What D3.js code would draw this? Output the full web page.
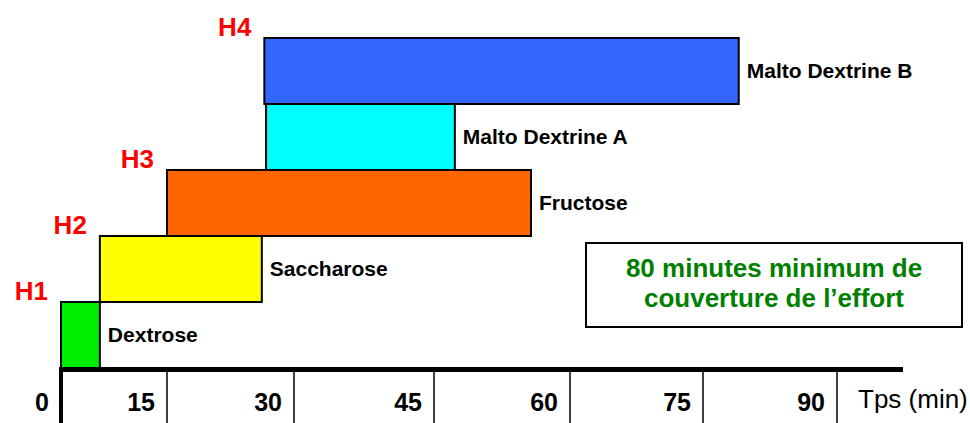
<!DOCTYPE html>
<html>
<head>
<meta charset="utf-8">
<script src="https://cdn.jsdelivr.net/npm/d3@7"></script>
<style>
  body { margin: 0; background: #fff; }
  text { font-family: Arial, "Liberation Sans", sans-serif; }
</style>
</head>
<body>
<div id="chart"></div>
<script>
// Data: sugars, when each one starts and stops covering the effort (minutes)
var sugars = ["Dextrose", "Saccharose", "Fructose", "Malto Dextrine A", "Malto Dextrine B"];
var startMin = [0, 5.5, 15, 26.7, 26.5];
var endMin = [5.5, 26.2, 55.7, 47.3, 79];
var sugarColors = ["#00ee00", "#ffff00", "#ff6600", "#00ffff", "#3366ff"];

// Hour markers and the sugar they sit on
var hourLabels = ["H1", "H2", "H3", "H4"];
var hourSugar = ["Dextrose", "Saccharose", "Fructose", "Malto Dextrine B"];

// Axis ticks
var tickValues = [0, 15, 30, 45, 60, 75, 90];
var axisTitle = "Tps (min)";
var noteLines = ["80 minutes minimum de", "couverture de l\u2019effort"];

var data = sugars.map(function(s, i) {
    return { name: s, start: startMin[i], end: endMin[i], color: sugarColors[i] };
});

var svgWidth = 970;
var svgHeight = 423;

var svg = d3.select("#chart")
    .append("svg")
    .attr("width", svgWidth)
    .attr("height", svgHeight);

// The drawn axis is not evenly spaced, so use a piecewise scale on the tick marks
var xScale = d3.scaleLinear()
    .domain(tickValues)
    .range([61, 167, 294, 434, 570, 703, 837]);

var axisY = 369.5;

// One row per sugar, stacked from the axis upward
var yScale = d3.scaleBand()
    .domain(sugars)
    .range([368, 38])
    .padding(0);

// Bars
svg.selectAll("rect.bar")
    .data(data)
    .enter()
    .append("rect")
    .attr("class", "bar")
    .attr("x", d => xScale(d.start))
    .attr("y", d => yScale(d.name))
    .attr("width", d => xScale(d.end) - xScale(d.start))
    .attr("height", yScale.bandwidth())
    .attr("fill", d => d.color)
    .attr("stroke", "#000")
    .attr("stroke-width", 2);

// Sugar names to the right of each bar
svg.selectAll("text.name")
    .data(data)
    .enter()
    .append("text")
    .attr("class", "name")
    .attr("x", d => xScale(d.end) + 8)
    .attr("y", d => yScale(d.name) + yScale.bandwidth() / 2)
    .attr("dy", "0.35em")
    .style("font-size", "21px")
    .style("font-weight", "bold")
    .style("fill", "#000")
    .text(d => d.name);

// Hour markers at the top-left corner of their bar
svg.selectAll("text.hour")
    .data(hourLabels)
    .enter()
    .append("text")
    .attr("class", "hour")
    .attr("x", (d, i) => xScale(startMin[sugars.indexOf(hourSugar[i])]) - 13)
    .attr("y", (d, i) => yScale(hourSugar[i]) - 2)
    .attr("text-anchor", "end")
    .style("font-size", "26px")
    .style("font-weight", "bold")
    .style("fill", "#ff0000")
    .text(d => d);

// Axis: thick base line and origin, thin separators below
svg.append("line")
    .attr("x1", 59)
    .attr("x2", 903)
    .attr("y1", axisY)
    .attr("y2", axisY)
    .attr("stroke", "#000")
    .attr("stroke-width", 5);

svg.append("line")
    .attr("x1", xScale(0))
    .attr("x2", xScale(0))
    .attr("y1", axisY)
    .attr("y2", svgHeight)
    .attr("stroke", "#000")
    .attr("stroke-width", 4);

svg.selectAll("line.tick")
    .data(tickValues.slice(1))
    .enter()
    .append("line")
    .attr("class", "tick")
    .attr("x1", d => xScale(d))
    .attr("x2", d => xScale(d))
    .attr("y1", axisY)
    .attr("y2", svgHeight)
    .attr("stroke", "#000")
    .attr("stroke-width", 1.5);

svg.selectAll("text.tickLabel")
    .data(tickValues)
    .enter()
    .append("text")
    .attr("class", "tickLabel")
    .attr("x", d => xScale(d) - 12)
    .attr("y", 411)
    .attr("text-anchor", "end")
    .style("font-size", "25px")
    .style("font-weight", "bold")
    .text(d => d);

svg.append("text")
    .attr("x", 858)
    .attr("y", 408)
    .style("font-size", "26px")
    .text(axisTitle);

// Note box
var note = svg.append("g");

note.append("rect")
    .attr("x", 586)
    .attr("y", 243)
    .attr("width", 376)
    .attr("height", 84)
    .attr("fill", "#fff")
    .attr("stroke", "#000")
    .attr("stroke-width", 2);

note.selectAll("text")
    .data(noteLines)
    .enter()
    .append("text")
    .attr("x", 774)
    .attr("y", (d, i) => 277 + i * 30)
    .attr("text-anchor", "middle")
    .style("font-size", "26px")
    .style("font-weight", "bold")
    .style("fill", "#008000")
    .text(d => d);
</script>
</body>
</html>
